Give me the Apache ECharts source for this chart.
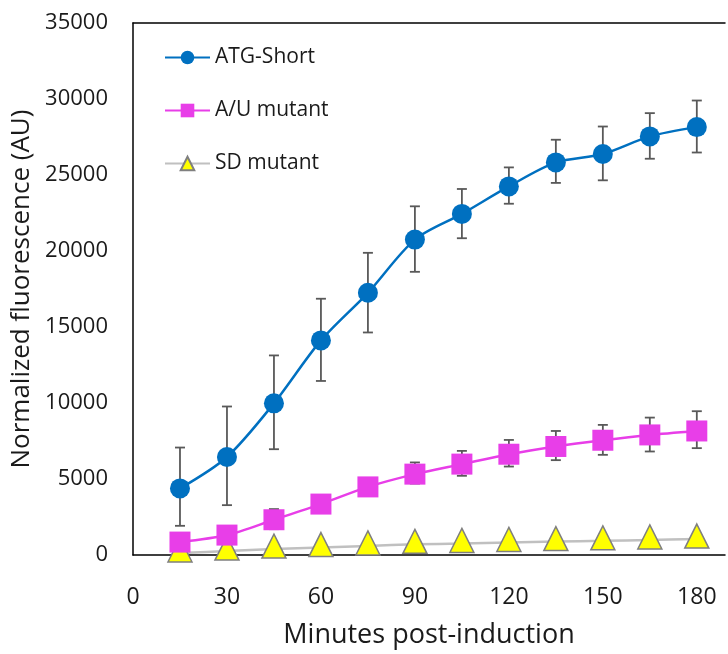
<!DOCTYPE html>
<html>
<head>
<meta charset="utf-8">
<script src="https://cdn.jsdelivr.net/npm/echarts@6/dist/echarts.min.js"></script>
<style>
  html, body { margin: 0; padding: 0; background: #fff; }
  #main { width: 728px; height: 654px; }
</style>
</head>
<body>
<div id="main"></div>
<script>
// minutes post-induction
var minutes = [15, 30, 45, 60, 75, 90, 105, 120, 135, 150, 165, 180];
// ATG-Short
var atgMean = [4380, 6450, 9980, 14120, 17250, 20750, 22440, 24250, 25830, 26380, 27540, 28150];
var atgLow  = [1920, 3280, 6960, 11450, 14640, 18630, 20840, 23110, 24480, 24650, 26070, 26480];
var atgHigh = [7070, 9770, 13130, 16860, 19880, 22940, 24080, 25500, 27320, 28190, 29070, 29900];
// A/U mutant
var auMean = [850, 1310, 2320, 3350, 4480, 5320, 5980, 6630, 7140, 7550, 7900, 8160];
var auLow  = [600, 1000, 1700, 2800, 3900, 4700, 5210, 5820, 6240, 6590, 6810, 7030];
var auHigh = [1100, 1600, 3020, 3900, 5050, 6090, 6850, 7570, 8160, 8560, 9040, 9460];
// SD mutant
var sdMean = [130, 260, 390, 490, 600, 700, 760, 830, 880, 930, 990, 1050];

var FONT = '"Open Sans", "Noto Sans", sans-serif';

function pairs(ys) {
  return minutes.map(function (m, i) { return [m, ys[i]]; });
}

function errorBars(name, low, high, z) {
  var data = minutes.map(function (m, i) { return [m, low[i], high[i]]; });
  return {
    name: name + ' err',
    type: 'custom',
    z: z,
    silent: true,
    renderItem: function (params, api) {
      var top = api.coord([api.value(0), api.value(2)]);
      var bot = api.coord([api.value(0), api.value(1)]);
      var cap = 5;
      var style = { stroke: '#595959', lineWidth: 1.8 };
      return {
        type: 'group',
        children: [
          { type: 'line', shape: { x1: top[0], y1: top[1], x2: bot[0], y2: bot[1] }, style: style },
          { type: 'line', shape: { x1: top[0] - cap, y1: top[1], x2: top[0] + cap, y2: top[1] }, style: style },
          { type: 'line', shape: { x1: bot[0] - cap, y1: bot[1], x2: bot[0] + cap, y2: bot[1] }, style: style }
        ]
      };
    },
    data: data
  };
}

var chart = echarts.init(document.getElementById('main'));

var option = {
  animation: false,
  textStyle: { fontFamily: FONT },
  grid: { left: 133, right: 1, top: 23, bottom: 98 },
  legend: {
    orient: 'vertical',
    left: 159,
    top: 42,
    itemWidth: 45,
    itemHeight: 17,
    itemGap: 32,
    textStyle: { fontFamily: FONT, fontSize: 21, color: '#1a1a1a' },
    data: ['ATG-Short', 'A/U mutant', 'SD mutant']
  },
  xAxis: [{
    type: 'value',
    min: 0,
    max: 189,
    interval: 30,
    name: 'Minutes post-induction',
    nameLocation: 'middle',
    nameGap: 67,
    nameTextStyle: { fontFamily: FONT, fontSize: 27, color: '#1a1a1a' },
    axisLine: { show: true, lineStyle: { color: '#000', width: 1.5 } },
    axisTick: { show: false },
    splitLine: { show: false },
    axisLabel: {
      margin: 31,
      fontFamily: FONT,
      fontSize: 23,
      color: '#1a1a1a',
      formatter: function (v) { return v % 30 === 0 ? String(v) : ''; }
    }
  }, {
    type: 'value',
    position: 'top',
    min: 0,
    max: 189,
    interval: 30,
    axisLine: { show: true, onZero: false, lineStyle: { color: '#000', width: 1.5 } },
    axisTick: { show: false },
    axisLabel: { show: false },
    splitLine: { show: false }
  }],
  yAxis: {
    type: 'value',
    min: 0,
    max: 35000,
    interval: 5000,
    name: 'Normalized fluorescence (AU)',
    nameLocation: 'middle',
    nameGap: 94,
    nameTextStyle: { fontFamily: FONT, fontSize: 26, color: '#1a1a1a' },
    axisLine: { show: true, lineStyle: { color: '#000', width: 1.5 } },
    axisTick: { show: false },
    splitLine: { show: false },
    axisLabel: {
      margin: 25,
      fontFamily: FONT,
      fontSize: 22,
      color: '#1a1a1a',
      formatter: function (v) { return String(v); }
    }
  },
  series: [
    errorBars('ATG-Short', atgLow, atgHigh, 1),
    errorBars('A/U mutant', auLow, auHigh, 1),
    {
      name: 'SD mutant',
      type: 'line',
      z: 2,
      smooth: 0.3,
      symbol: 'triangle',
      symbolSize: [24, 24],
      symbolOffset: [0, -3],
      lineStyle: { color: '#c0c0c0', width: 2.5 },
      itemStyle: { color: '#ffff00', borderColor: '#7f7f7f', borderWidth: 1.5 },
      data: pairs(sdMean)
    },
    {
      name: 'A/U mutant',
      type: 'line',
      z: 3,
      smooth: 0.3,
      symbol: 'rect',
      symbolSize: 21,
      lineStyle: { color: '#e83ee8', width: 2.5 },
      itemStyle: { color: '#e83ee8' },
      data: pairs(auMean)
    },
    {
      name: 'ATG-Short',
      type: 'line',
      z: 4,
      smooth: 0.3,
      symbol: 'circle',
      symbolSize: 20,
      lineStyle: { color: '#0070c0', width: 2.5 },
      itemStyle: { color: '#0070c0' },
      data: pairs(atgMean)
    }
  ]
};

chart.setOption(option);
</script>
</body>
</html>
